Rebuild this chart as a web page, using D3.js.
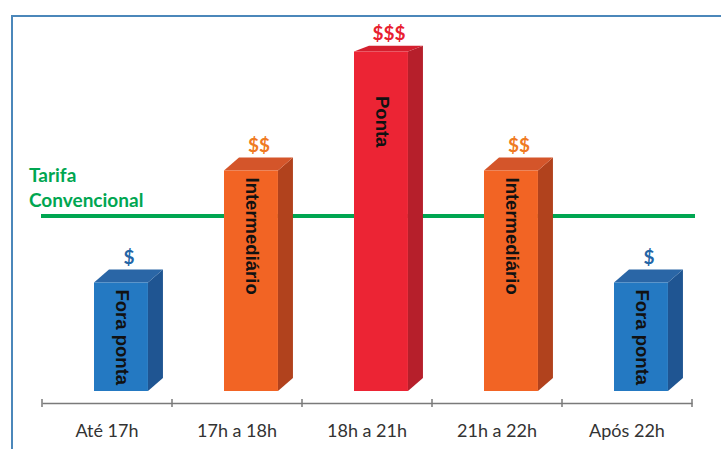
<!DOCTYPE html>
<html>
<head>
<meta charset="utf-8">
<script src="https://cdn.jsdelivr.net/npm/d3@7"></script>
<style>
  body { margin: 0; background: #fff; }
  svg { display: block; }
</style>
</head>
<body>
<svg id="chart" width="721" height="449"></svg>
<script>
// data
var categories = ["Até 17h", "17h a 18h", "18h a 21h", "21h a 22h", "Após 22h"];
var values = [3.1, 6.3, 9.7, 6.3, 3.1];
var barLabels = ["Fora ponta", "Intermediário", "Ponta", "Intermediário", "Fora ponta"];
var priceLabels = ["$", "$$", "$$$", "$$", "$"];
var tiers = ["fora", "inter", "ponta", "inter", "fora"];
var tarifaConvencional = 5.0;

var palette = {
  fora:  { front: "#2479c2", side: "#1f5592", top: "#2a66a6", text: "#2465a6" },
  inter: { front: "#f26424", side: "#b1421d", top: "#d4552a", text: "#f07a22" },
  ponta: { front: "#ec2434", side: "#b61f2b", top: "#d41f2e", text: "#e8202f" }
};

var svg = d3.select("#chart");

var x = d3.scaleBand().domain(categories).range([42, 692]).paddingInner(0);
var y = d3.scaleLinear().domain([0, 10]).range([391, 41]);

var depthX = 15;
// perspective: the top of the tallest bar is seen almost edge on
function depthY(py) { return 5 + 8 * Math.min(1, Math.max(0, (py - 40) / 120)); }

// frame
svg.append("path")
  .attr("d", "M12,449 L12,16 L721,16")
  .attr("fill", "none")
  .attr("stroke", "#4b87ba")
  .attr("stroke-width", 2);

// tarifa convencional line (behind the bars)
svg.append("line")
  .attr("x1", 41).attr("x2", 695)
  .attr("y1", y(tarifaConvencional)).attr("y2", y(tarifaConvencional))
  .attr("stroke", "#00a651")
  .attr("stroke-width", 4);

svg.append("text")
  .attr("x", 29).attr("y", 182)
  .attr("fill", "#00a651")
  .style("font", "bold 19px Lato, 'Open Sans', sans-serif")
  .text("Tarifa");
svg.append("text")
  .attr("x", 29).attr("y", 207)
  .attr("fill", "#00a651")
  .style("font", "bold 19px Lato, 'Open Sans', sans-serif")
  .text("Convencional");

// bars
var bw = x.bandwidth() * 0.415;
var bars = svg.append("g").selectAll("g")
  .data(categories)
  .join("g");

bars.each(function (c, i) {
  var g = d3.select(this);
  var c0 = palette[tiers[i]];
  var x0 = x(c) + x.bandwidth() * 0.4, x1 = x0 + bw;
  var yt = y(values[i]), yb = y(0);
  var dyt = depthY(yt), dyb = depthY(yb);

  // side face
  g.append("path")
    .attr("d", "M" + x1 + "," + yt + " L" + (x1 + depthX) + "," + (yt - dyt) +
      " L" + (x1 + depthX) + "," + (yb - dyb) + " L" + x1 + "," + yb + "Z")
    .attr("fill", c0.side);
  // top face
  g.append("path")
    .attr("d", "M" + x0 + "," + yt + " L" + (x0 + depthX) + "," + (yt - dyt) +
      " L" + (x1 + depthX) + "," + (yt - dyt) + " L" + x1 + "," + yt + "Z")
    .attr("fill", c0.top);
  // front face
  g.append("rect")
    .attr("x", x0).attr("y", yt)
    .attr("width", bw).attr("height", yb - yt)
    .attr("fill", c0.front);

  // label inside the bar, rotated
  var ly = Math.max(yt + 7, 96);
  g.append("text")
    .attr("transform", "translate(" + (x0 + bw / 2) + "," + ly + ") rotate(90)")
    .attr("text-anchor", "start")
    .attr("dominant-baseline", "middle")
    .attr("fill", "#111")
    .style("font", "bold 18.5px 'Liberation Sans', Arial, sans-serif")
    .text(barLabels[i]);

  // price tier above the bar
  g.append("text")
    .attr("x", x0 + bw / 2 + 8)
    .attr("y", yt - dyt - 6)
    .attr("text-anchor", "middle")
    .attr("fill", c0.text)
    .style("font", "bold 19px Lato, 'Open Sans', sans-serif")
    .text(priceLabels[i]);
});

// category axis
var axisY = 403;
var axis = svg.append("g")
  .attr("transform", "translate(0," + axisY + ")")
  .call(d3.axisBottom(x).tickSize(0).tickSizeOuter(0).tickPadding(21));
axis.select(".domain").attr("stroke", "#7a7a7a").attr("stroke-width", 1.5);
axis.selectAll(".tick text")
  .attr("fill", "#333")
  .style("font", "18px Lato, 'Open Sans', sans-serif");

var bounds = categories.map(function (c) { return x(c); }).concat([x.range()[1]]);
axis.selectAll("line.bound")
  .data(bounds)
  .join("line")
  .attr("class", "bound")
  .attr("x1", function (d) { return d; }).attr("x2", function (d) { return d; })
  .attr("y1", -4).attr("y2", 4)
  .attr("stroke", "#7a7a7a")
  .attr("stroke-width", 1.5);
</script>
</body>
</html>
